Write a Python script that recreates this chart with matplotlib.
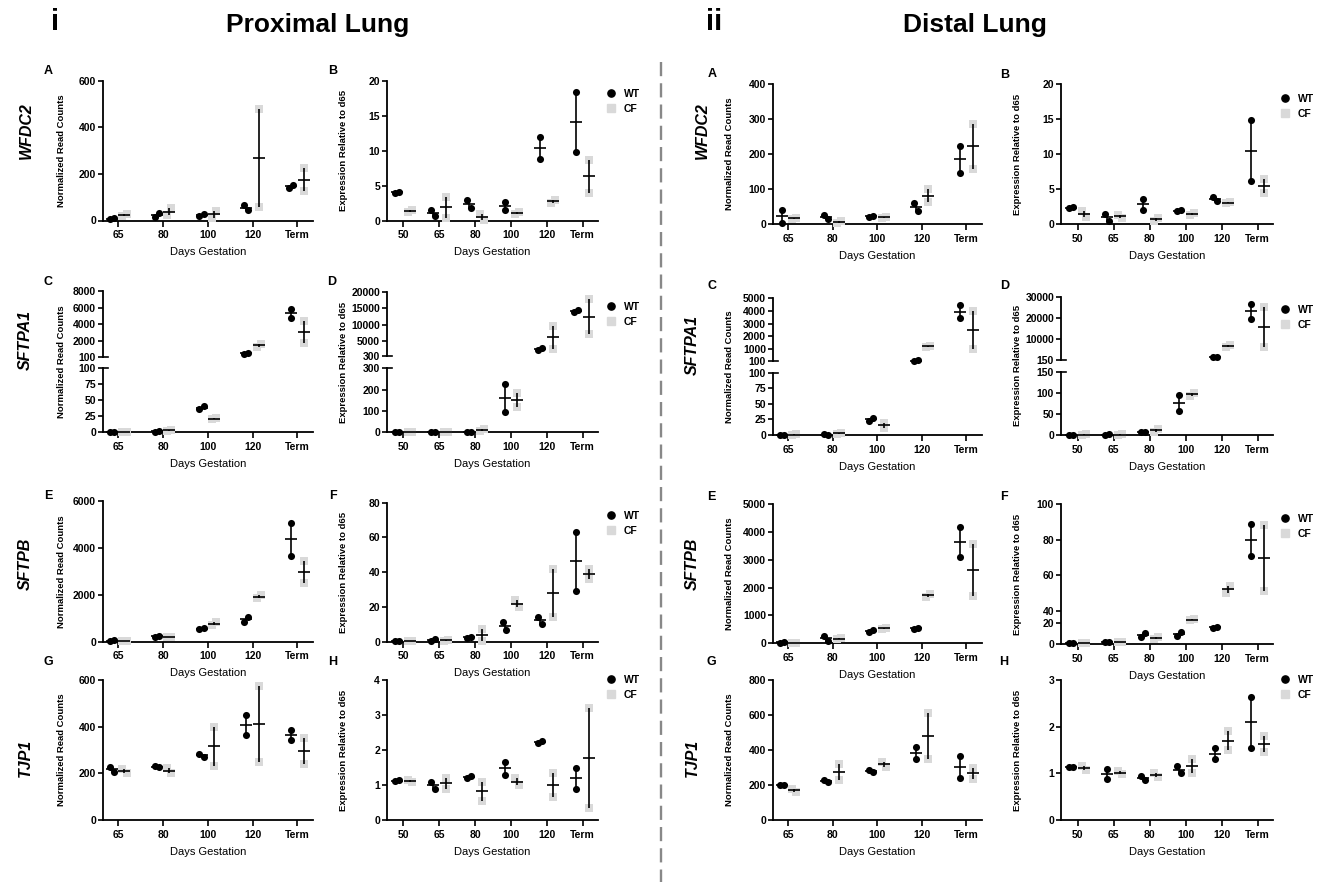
import numpy as np
import matplotlib
matplotlib.use('Agg')
import matplotlib.pyplot as plt
from matplotlib.lines import Line2D

plt.rcParams['font.family'] = ['Liberation Sans', 'DejaVu Sans']
plt.rcParams['font.weight'] = 'bold'

W, H = 1325, 891

# x categories ------------------------------------------------------------
days_rc = ['65', '80', '100', '120', 'Term']            # read counts panels
days_rel = ['50', '65', '80', '100', '120', 'Term']     # relative to d65 panels

# proximal lung: two animals per group, [[a, b], ...] per day
wfdc2_prox_rc_wt = [[5, 10], [15, 32], [20, 28], [65, 45], [140, 152]]
wfdc2_prox_rc_cf = [[20, 30], [25, 52], [12, 40], [480, 59], [224, 127]]
wfdc2_prox_rel_wt = [[4.0, 4.1], [1.5, 0.7], [2.9, 1.8], [2.7, 1.5], [11.9, 8.8], [18.4, 9.8]]
wfdc2_prox_rel_cf = [[1.2, 1.5], [3.4, 0.4], [1.0, 0.1], [1.0, 1.2], [2.6, 3.0], [8.7, 4.0]]

sftpa1_prox_rc_wt = [[0.3, 0.6], [1.0, 1.5], [36, 41], [480, 560], [5850, 4800]]
sftpa1_prox_rc_cf = [[0.2, 0.4], [2, 4], [20, 22], [1350, 1650], [4350, 1800]]
sftpa1_prox_rel_wt = [[1.0, 1.2], [0.8, 1.2], [2, 3], [225, 95], [2200, 2700], [14000, 14500]]
sftpa1_prox_rel_cf = [[0.5, 0.8], [0.8, 1.2], [4, 14], [185, 118], [9500, 2600], [18000, 7000]]

sftpb_prox_rc_wt = [[30, 70], [200, 260], [530, 580], [850, 1040], [5060, 3660]]
sftpb_prox_rc_cf = [[20, 40], [190, 220], [700, 830], [1850, 1990], [3450, 2510]]
sftpb_prox_rel_wt = [[0.3, 0.4], [0.6, 1.4], [2.4, 2.6], [11.2, 6.6], [14.4, 10.2], [63.4, 29.0]]
sftpb_prox_rel_cf = [[0.2, 0.4], [0.5, 1.2], [7.3, 0.5], [24.0, 19.8], [41.7, 14.4], [41.7, 36.0]]

tjp1_prox_rc_wt = [[228, 206], [232, 226], [285, 270], [450, 365], [385, 343]]
tjp1_prox_rc_cf = [[220, 200], [222, 200], [400, 232], [575, 250], [350, 240]]
tjp1_prox_rel_wt = [[1.12, 1.13], [1.1, 0.9], [1.2, 1.25], [1.65, 1.3], [2.2, 2.25], [1.5, 0.9]]
tjp1_prox_rel_cf = [[1.15, 1.1], [1.2, 0.9], [1.1, 0.55], [1.2, 1.0], [1.35, 0.65], [3.2, 0.35]]

# distal lung
wfdc2_dist_rc_wt = [[40, 4], [26, 13], [20, 24], [60, 38], [222, 147]]
wfdc2_dist_rc_cf = [[15, 17], [4, 8], [18, 20], [100, 62], [287, 157]]
wfdc2_dist_rel_wt = [[2.3, 2.4], [1.5, 0.5], [3.6, 2.0], [1.85, 1.95], [3.8, 3.3], [14.8, 6.2]]
wfdc2_dist_rel_cf = [[1.9, 1.0], [1.3, 0.9], [0.5, 0.8], [1.3, 1.6], [3.0, 3.1], [6.5, 4.5]]

sftpa1_dist_rc_wt = [[0.3, 0.6], [1.0, 0.5], [23, 27], [120, 140], [4400, 3400]]
sftpa1_dist_rc_cf = [[0.5, 1.0], [2, 4], [12, 19], [1200, 1250], [4000, 1050]]
sftpa1_dist_rel_wt = [[1.0, 1.1], [0.8, 1.2], [6, 7], [95, 58], [1400, 1500], [26700, 19700]]
sftpa1_dist_rel_cf = [[0.8, 1.2], [0.9, 1.3], [8, 14], [92, 100], [6500, 7200], [25000, 6300]]

sftpb_dist_rc_wt = [[20, 50], [260, 100], [420, 460], [520, 560], [4180, 3080]]
sftpb_dist_rc_cf = [[10, 20], [160, 180], [510, 560], [1670, 1770], [3560, 1700]]
sftpb_dist_rel_wt = [[0.5, 0.6], [1.5, 2.0], [6.3, 10.6], [7.5, 11.5], [15, 16], [89, 71]]
sftpb_dist_rel_cf = [[0.8, 1.1], [1.5, 2.0], [4.5, 6.5], [24, 26], [50, 54], [88, 51]]

tjp1_dist_rc_wt = [[200, 198], [230, 215], [285, 275], [420, 350], [365, 240]]
tjp1_dist_rc_cf = [[180, 160], [320, 230], [330, 305], [610, 350], [300, 235]]
tjp1_dist_rel_wt = [[1.13, 1.14], [1.1, 0.88], [0.95, 0.85], [1.15, 1.0], [1.55, 1.3], [2.63, 1.55]]
tjp1_dist_rel_cf = [[1.15, 1.08], [1.05, 0.98], [1.0, 0.92], [1.3, 1.0], [1.9, 1.5], [1.8, 1.45]]

WT_COL = 'black'
CF_COL = '#d9d9d9'
TICK_FS = 7.5

fig = plt.figure(figsize=(W / 100, H / 100), dpi=100)


def add_ax(x0, x1, ytop, ybot):
    return fig.add_axes([x0 / W, 1 - ybot / H, (x1 - x0) / W, (ybot - ytop) / H])


def base_style(ax, labels, xaxis=True):
    n = len(labels)
    if n == 5:
        ax.set_xlim(-0.34, 4.35)
    else:
        ax.set_xlim(-0.46, 5.43)
    for s in ['top', 'right']:
        ax.spines[s].set_visible(False)
    ax.spines['left'].set_linewidth(1.3)
    ax.spines['bottom'].set_linewidth(1.3)
    ax.tick_params(axis='y', direction='out', length=3.5, width=1.2, pad=1.5, labelsize=TICK_FS)
    ax.tick_params(axis='x', direction='out', length=4, width=1.2, pad=3, labelsize=TICK_FS)
    ax.patch.set_alpha(0)
    if xaxis:
        ax.set_xticks(range(n))
        ax.set_xticklabels(labels)
        ax.set_xlabel('Days Gestation', fontsize=8, labelpad=5)
    else:
        ax.spines['bottom'].set_visible(False)
        ax.set_xticks([])


def set_yt(ax, ticks):
    ax.set_yticks(ticks)
    ax.set_yticklabels(['%g' % t for t in ticks])


def plot_groups(ax, wt, cf, span, lo=-np.inf, hi=np.inf):
    n = len(wt)
    d = 0.14 if n == 5 else 0.18
    jit = 0.045 if n == 5 else 0.055
    for i in range(n):
        for vals, sign, mk, col, sz in [(wt[i], -1, 'o', WT_COL, 26), (cf[i], 1, 's', CF_COL, 30)]:
            a, b = vals
            x = i + sign * d
            if abs(a - b) < 0.06 * span:
                xs = [x - jit, x + jit]
            else:
                xs = [x, x]
            for xx, v in zip(xs, vals):
                if lo < v <= hi:
                    ax.scatter(xx, v, s=sz, marker=mk, c=col, linewidths=0, zorder=3, clip_on=False)
            m = np.mean(vals)
            e = abs(a - b) / 2
            ax.vlines(x, m - e, m + e, color='black', lw=1.2, zorder=4)
            if lo < m <= hi:
                ax.plot(x, m, marker='_', ms=8, mew=1.2, color='black', zorder=4, clip_on=False)


def add_legend(ax, x, y):
    h = [Line2D([], [], ls='', marker='o', color=WT_COL, ms=5.2),
         Line2D([], [], ls='', marker='s', color=CF_COL, ms=5.5)]
    ax.legend(h, ['WT', 'CF'], loc='upper left', bbox_to_anchor=(x / W, 1 - y / H),
              bbox_transform=fig.transFigure, frameon=False, handlelength=0.6,
              handletextpad=0.9, labelspacing=0.45, borderpad=0, borderaxespad=0,
              prop={'size': 7.5, 'weight': 'bold'})


def ylab(x, y, text):
    fig.text(x / W, 1 - y / H, text, rotation=90, ha='center', va='center',
             fontsize=6.8, fontweight='bold')


def panel(x0, x1, ytop, ybot, labels, wt, cf, top, ticks, ytext, ylx, legend=None):
    ax = add_ax(x0, x1, ytop, ybot)
    base_style(ax, labels)
    ax.set_ylim(0, top)
    set_yt(ax, ticks)
    plot_groups(ax, wt, cf, top)
    ylab(ylx, (ytop + ybot) / 2, ytext)
    if legend:
        add_legend(ax, *legend)
    return ax


def broken_panel(x0, x1, ytop, ymid1, ymid2, ybot, labels, wt, cf, split, top,
                 up_ticks, low_ticks, ytext, ylx, legend=None):
    ax_up = add_ax(x0, x1, ytop, ymid1)
    base_style(ax_up, labels, xaxis=False)
    ax_up.set_ylim(split, top)
    set_yt(ax_up, up_ticks)
    plot_groups(ax_up, wt, cf, top - split, lo=split)
    ax_up.plot([0, 0.025], [0, 0], transform=ax_up.transAxes, color='black', lw=1.2, clip_on=False)

    ax_lo = add_ax(x0, x1, ymid2, ybot)
    base_style(ax_lo, labels)
    ax_lo.set_ylim(0, split)
    set_yt(ax_lo, low_ticks)
    plot_groups(ax_lo, wt, cf, split, hi=split)
    ax_lo.plot([0, 0.025], [1, 1], transform=ax_lo.transAxes, color='black', lw=1.2, clip_on=False)

    ylab(ylx, (ytop + ybot) / 2, ytext)
    if legend:
        add_legend(ax_lo, *legend)


RC = 'Normalized Read Counts'
REL = 'Expression Relative to d65'

# ---------------- proximal lung ----------------
panel(103, 313, 80.7, 220.5, days_rc, wfdc2_prox_rc_wt, wfdc2_prox_rc_cf, 600, [0, 200, 400, 600], RC, 62)
panel(387, 598, 80.7, 220.7, days_rel, wfdc2_prox_rel_wt, wfdc2_prox_rel_cf, 20, [0, 5, 10, 15, 20], REL, 344,
      legend=(608, 89))

broken_panel(103, 313, 291, 357, 368.3, 432.3, days_rc, sftpa1_prox_rc_wt, sftpa1_prox_rc_cf, 100, 8000,
             [100, 2000, 4000, 6000, 8000], [0, 25, 50, 75, 100], RC, 62)
broken_panel(387, 598, 292.3, 356, 368.3, 432.3, days_rel, sftpa1_prox_rel_wt, sftpa1_prox_rel_cf, 300, 20000,
             [300, 5000, 10000, 15000, 20000], [0, 100, 200, 300], REL, 344, legend=(608, 302))

panel(103, 313, 500.7, 641.7, days_rc, sftpb_prox_rc_wt, sftpb_prox_rc_cf, 6000, [0, 2000, 4000, 6000], RC, 62)
panel(387, 598, 502.7, 641.7, days_rel, sftpb_prox_rel_wt, sftpb_prox_rel_cf, 80, [0, 20, 40, 60, 80], REL, 344,
      legend=(608, 511))

panel(103, 313, 680, 820, days_rc, tjp1_prox_rc_wt, tjp1_prox_rc_cf, 600, [0, 200, 400, 600], RC, 62)
panel(387, 598, 680, 820, days_rel, tjp1_prox_rel_wt, tjp1_prox_rel_cf, 4, [0, 1, 2, 3, 4], REL, 344,
      legend=(608, 675))

# ---------------- distal lung ----------------
panel(773, 982, 84, 224, days_rc, wfdc2_dist_rc_wt, wfdc2_dist_rc_cf, 400, [0, 100, 200, 300, 400], RC, 730)
panel(1061, 1273, 84, 224, days_rel, wfdc2_dist_rel_wt, wfdc2_dist_rel_cf, 20, [0, 5, 10, 15, 20], REL, 1018,
      legend=(1282, 94))

broken_panel(773, 982, 297.7, 361, 372.7, 435, days_rc, sftpa1_dist_rc_wt, sftpa1_dist_rc_cf, 100, 5000,
             [100, 1000, 2000, 3000, 4000, 5000], [0, 25, 50, 75, 100], RC, 730)
broken_panel(1061, 1273, 296.7, 360, 371.7, 435, days_rel, sftpa1_dist_rel_wt, sftpa1_dist_rel_cf, 150, 30000,
             [150, 10000, 20000, 30000], [0, 50, 100, 150], REL, 1018, legend=(1282, 305))

panel(773, 982, 503.8, 643.3, days_rc, sftpb_dist_rc_wt, sftpb_dist_rc_cf, 5000,
      [0, 1000, 2000, 3000, 4000, 5000], RC, 730)

# distal SFTPB relative: compressed segment between 20 and 40
ax_df = add_ax(1061, 1273, 504, 644, )
base_style(ax_df, days_rel)
seg_in = [-1000, 0, 20, 40, 100, 1000]
seg_out = [-1065, 0, 21.3, 33.3, 140, 1737.5]
ax_df.set_yscale('function', functions=(lambda y: np.interp(y, seg_in, seg_out),
                                        lambda y: np.interp(y, seg_out, seg_in)))
ax_df.set_ylim(0, 100)
set_yt(ax_df, [0, 20, 40, 60, 80, 100])
ax_df.yaxis.set_minor_locator(matplotlib.ticker.NullLocator())
plot_groups(ax_df, sftpb_dist_rel_wt, sftpb_dist_rel_cf, 100)
ylab(1018, (504 + 644) / 2, REL)
add_legend(ax_df, 1282, 514)

panel(773, 982, 680, 820, days_rc, tjp1_dist_rc_wt, tjp1_dist_rc_cf, 800, [0, 200, 400, 600, 800], RC, 730)
panel(1061, 1273, 680, 820, days_rel, tjp1_dist_rel_wt, tjp1_dist_rel_cf, 3, [0, 1, 2, 3], REL, 1018,
      legend=(1282, 675))

# ---------------- text ----------------
def ftext(x, y, s, **kw):
    fig.text(x / W, 1 - y / H, s, ha='center', va='center', fontweight='bold', **kw)

ftext(55, 22, 'i', fontsize=21)
ftext(318, 25, 'Proximal Lung', fontsize=19)
ftext(714, 22, 'ii', fontsize=21)
ftext(975, 25, 'Distal Lung', fontsize=19)

for lx, ly, s in [(48, 71, 'A'), (333, 71, 'B'), (712, 74, 'A'), (1005, 75, 'B'),
                  (48, 282, 'C'), (332, 282, 'D'), (712, 286, 'C'), (1005, 286, 'D'),
                  (48, 496, 'E'), (333, 496, 'F'), (711, 497, 'E'), (1004, 497, 'F'),
                  (48, 662, 'G'), (333, 662, 'H'), (711, 662, 'G'), (1004, 662, 'H')]:
    ftext(lx, ly, s, fontsize=9)

for gx, gy, s in [(26, 131, 'WFDC2'), (25, 340, 'SFTPA1'), (25, 564, 'SFTPB'), (25, 758, 'TJP1'),
                  (702, 131, 'WFDC2'), (692, 345, 'SFTPA1'), (692, 564, 'SFTPB'), (692, 758, 'TJP1')]:
    ftext(gx, gy, s, fontsize=11.5, style='italic', rotation=90)

fig.add_artist(Line2D([661 / W, 661 / W], [1 - 62 / H, 1 - 882 / H], transform=fig.transFigure,
                      color='#888888', lw=1.7, ls=(0, (6, 3))))

fig.savefig('out.png', dpi=100)
